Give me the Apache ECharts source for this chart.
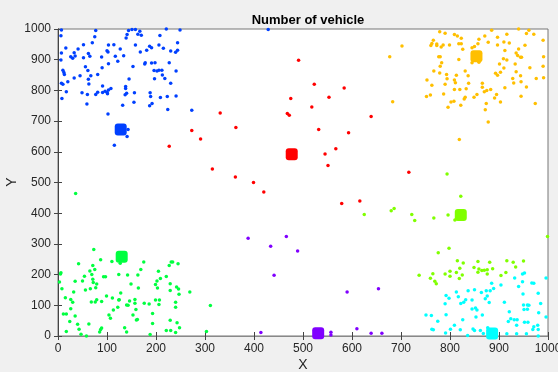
<!DOCTYPE html>
<html><head><meta charset="utf-8">
<script src="https://cdn.jsdelivr.net/npm/echarts@6/dist/echarts.min.js"></script>
<style>html,body{margin:0;padding:0;background:#f0f0f0}#c{width:558px;height:372px}</style>
</head><body><div id="c"></div>
<script>
const titleText = 'Number of vehicle';
const xName = 'X';
const yName = 'Y';
const xTicks = [0,100,200,300,400,500,600,700,800,900,1000];
const yTicks = [0,100,200,300,400,500,600,700,800,900,1000];

const blue = [[7,997],[77,995],[144,995],[151,998],[158,998],[167,993],[221,1000],[249,997],[429,998],
[6,978],[75,975],[141,982],[139,971],[163,983],[170,980],[208,979],[70,955],[52,949],[103,948],[114,949],
[158,948],[187,944],[191,939],[206,948],[244,955],[16,938],[41,935],[127,935],[100,929],[102,925],[181,931],
[168,925],[215,937],[230,928],[240,924],[244,931],[7,922],[33,923],[62,920],[26,910],[30,905],[35,912],
[52,906],[65,911],[89,909],[117,911],[134,913],[6,899],[103,887],[122,895],[178,890],[177,886],[191,889],
[198,890],[227,890],[56,877],[90,874],[153,878],[10,866],[61,865],[12,858],[13,852],[67,848],[81,852],
[196,865],[202,863],[206,866],[212,866],[241,863],[213,850],[33,840],[45,848],[62,836],[145,837],[197,838],
[218,839],[20,828],[7,823],[10,820],[63,821],[230,823],[91,814],[108,806],[138,813],[138,806],[103,801],
[17,796],[49,792],[60,787],[77,787],[81,794],[91,793],[96,797],[101,789],[100,794],[137,786],[140,791],
[156,792],[188,792],[189,780],[209,777],[223,780],[241,782],[8,774],[59,756],[132,752],[155,761],[187,750],
[192,757],[224,738],[102,723],[273,735],[143,673],[141,650],[115,621]];
const blueCenter = [[128,673]];

const red = [[491,898],[523,820],[584,808],[553,778],[475,774],[518,746],[331,726],[468,725],[472,719],
[639,715],[363,679],[532,673],[273,669],[593,662],[291,642],[227,618],[567,610],[545,593],[551,555],
[315,544],[716,533],[362,518],[399,500],[420,469],[616,440],[579,432]];
const redCenter = [[477,592]];

const orange = [[779,991],[790,986],[809,982],[815,977],[823,970],[766,963],[763,953],[761,946],[773,951],
[773,946],[782,941],[786,948],[799,948],[818,952],[823,952],[826,934],[859,967],[871,977],[885,996],
[878,957],[857,952],[850,943],[845,939],[897,973],[910,958],[921,954],[897,948],[916,983],[940,1000],
[956,985],[961,996],[971,983],[990,963],[953,947],[912,930],[940,935],[935,922],[938,914],[944,908],
[946,908],[909,903],[916,899],[991,910],[702,945],[677,910],[777,910],[780,910],[818,901],[845,890],
[859,892],[783,890],[780,879],[901,886],[933,886],[990,879],[910,873],[963,874],[767,863],[779,857],
[831,863],[837,848],[813,849],[793,852],[794,838],[893,856],[897,849],[903,859],[935,861],[944,848],
[928,839],[930,824],[945,828],[976,839],[991,841],[753,834],[809,834],[811,825],[838,823],[866,823],
[866,810],[790,820],[763,817],[809,803],[820,803],[833,805],[875,800],[883,803],[870,796],[912,809],
[956,811],[787,788],[760,785],[752,780],[855,787],[849,778],[831,778],[829,772],[895,787],[891,775],
[903,762],[945,781],[808,765],[802,762],[822,752],[796,745],[874,757],[872,737],[974,757],[878,697],
[683,763],[819,640]];
const orangeCenter = [[854,911]];

const lime = [[794,528],[822,455],[625,396],[680,408],[686,415],[722,396],[728,376],[767,384],[796,394],
[810,378],[999,324],[776,271],[798,286],[815,245],[827,238],[857,243],[881,240],[916,245],[929,240],
[950,244],[820,221],[849,223],[859,218],[865,213],[870,214],[876,216],[887,219],[857,208],[876,202],
[934,225],[914,207],[904,197],[813,207],[800,211],[800,195],[790,202],[825,199],[819,187],[765,203],
[760,188],[769,178],[772,170],[737,198]];
const limeCenter = [[822,394]];

const green = [[36,464],[73,282],[42,235],[71,230],[87,248],[110,243],[127,237],[175,241],[227,230],[231,241],
[234,241],[245,235],[169,217],[75,217],[65,212],[6,206],[5,202],[54,195],[69,200],[93,193],[97,193],
[124,200],[142,199],[163,199],[205,211],[221,194],[209,187],[202,179],[35,178],[50,179],[71,185],[72,174],
[79,169],[3,176],[199,168],[149,169],[229,170],[8,154],[56,150],[66,154],[77,157],[164,156],[203,156],
[229,148],[242,160],[246,153],[247,136],[269,143],[32,143],[128,140],[15,125],[26,119],[30,110],[68,111],
[76,111],[79,118],[89,112],[99,130],[111,124],[124,117],[125,118],[146,114],[157,119],[157,107],[176,107],
[186,104],[199,117],[207,117],[206,103],[240,110],[240,94],[311,99],[140,101],[143,100],[122,94],[113,85],
[26,89],[11,72],[17,72],[35,65],[104,68],[107,58],[153,68],[159,86],[160,52],[162,54],[193,73],[24,47],
[63,39],[40,38],[193,41],[229,51],[243,43],[248,27],[136,27],[140,13],[89,26],[87,21],[85,13],[43,22],
[17,15],[47,6],[58,0],[221,18],[230,18],[240,11],[188,5],[303,15]];
const greenCenter = [[130,258]];

const cyan = [[996,189],[948,202],[952,205],[932,189],[948,177],[940,161],[967,173],[971,172],[885,172],
[904,166],[889,155],[874,147],[882,147],[864,142],[837,147],[850,151],[813,143],[792,132],[798,123],
[817,128],[832,118],[845,117],[876,130],[872,121],[880,109],[790,105],[822,106],[828,110],[949,137],
[980,139],[985,106],[911,110],[950,101],[958,101],[961,100],[951,86],[958,87],[981,76],[996,62],[921,79],
[924,56],[931,53],[937,53],[919,47],[936,35],[952,45],[959,45],[971,30],[979,35],[980,21],[969,21],
[980,0],[751,68],[762,67],[775,48],[792,69],[826,53],[866,68],[852,91],[855,85],[845,88],[853,62],
[809,35],[801,22],[763,22],[766,20],[791,10],[821,20],[847,23],[850,18],[862,18],[877,27],[836,2],
[868,8],[916,7],[936,7],[956,7]];
const cyanCenter = [[886,8]];

const purple = [[388,318],[434,292],[466,324],[489,277],[441,198],[414,11],[590,143],[654,154],[557,12],
[557,3],[610,24],[639,9],[661,9]];
const purpleCenter = [[531,9]];

const groups = [
  {name:'red', pts:red, ctr:redCenter, color:'#ff0000'},
  {name:'orange', pts:orange, ctr:orangeCenter, color:'#ffbf00'},
  {name:'lime', pts:lime, ctr:limeCenter, color:'#80ff00'},
  {name:'green', pts:green, ctr:greenCenter, color:'#00ff40'},
  {name:'cyan', pts:cyan, ctr:cyanCenter, color:'#00ffff'},
  {name:'blue', pts:blue, ctr:blueCenter, color:'#0040ff'},
  {name:'purple', pts:purple, ctr:purpleCenter, color:'#8000ff'}
];

const series = [];
groups.forEach(g => {
  series.push({type:'scatter', xAxisIndex:0, yAxisIndex:0, data:g.pts, symbol:'circle', symbolSize:3.5,
    itemStyle:{color:g.color, opacity:1}, silent:true, z:2});
});
groups.forEach(g => {
  series.push({type:'scatter', xAxisIndex:0, yAxisIndex:0, data:g.ctr, symbol:'roundRect', symbolSize:12,
    itemStyle:{color:g.color, opacity:1}, silent:true, z:3});
});

const ff = 'Liberation Sans, Arial, sans-serif';
const txt = {color:'#262626', fontFamily:ff, fontSize:12, formatter:v => String(v)};
const chart = echarts.init(document.getElementById('c'), null, {renderer:'canvas'});
chart.setOption({
  animation:false,
  backgroundColor:'#f0f0f0',
  title:{text:titleText, left:303, top:9, textAlign:'center',
    textStyle:{fontWeight:'bold', fontSize:13, color:'#000', fontFamily:ff}},
  grid:{left:58, right:10, top:29, bottom:36, containLabel:false, outerBoundsMode:'none',
    show:true, backgroundColor:'#ffffff', borderColor:'#777', borderWidth:1},
  graphic:[
    {type:'text', x:303, y:365, style:{text:xName, fill:'#262626', font:'14px ' + ff, textAlign:'center', textVerticalAlign:'middle'}},
    {type:'text', x:12, y:182, rotation:Math.PI/2, style:{text:yName, fill:'#262626', font:'14px ' + ff, textAlign:'center', textVerticalAlign:'middle'}}
  ],
  xAxis:[
    {type:'value', min:xTicks[0], max:xTicks[xTicks.length-1], interval:100, position:'bottom',
     axisLine:{show:true, lineStyle:{color:'#444'}}, axisTick:{show:true, inside:true, length:4, lineStyle:{color:'#444'}},
     axisLabel:Object.assign({margin:7}, txt), splitLine:{show:false}},
    {type:'value', min:0, max:1000, interval:100, position:'top',
     axisLine:{show:true, lineStyle:{color:'#888'}}, axisTick:{show:true, inside:true, length:4, lineStyle:{color:'#444'}},
     axisLabel:{show:false}, splitLine:{show:false}}
  ],
  yAxis:[
    {type:'value', min:yTicks[0], max:yTicks[yTicks.length-1], interval:100, position:'left',
     axisLine:{show:true, lineStyle:{color:'#444'}}, axisTick:{show:true, inside:true, length:4, lineStyle:{color:'#444'}},
     axisLabel:Object.assign({margin:7}, txt), splitLine:{show:false}},
    {type:'value', min:0, max:1000, interval:100, position:'right',
     axisLine:{show:true, lineStyle:{color:'#444'}}, axisTick:{show:true, inside:true, length:4, lineStyle:{color:'#444'}},
     axisLabel:{show:false}, splitLine:{show:false}}
  ],
  series:series
});
</script></body></html>
